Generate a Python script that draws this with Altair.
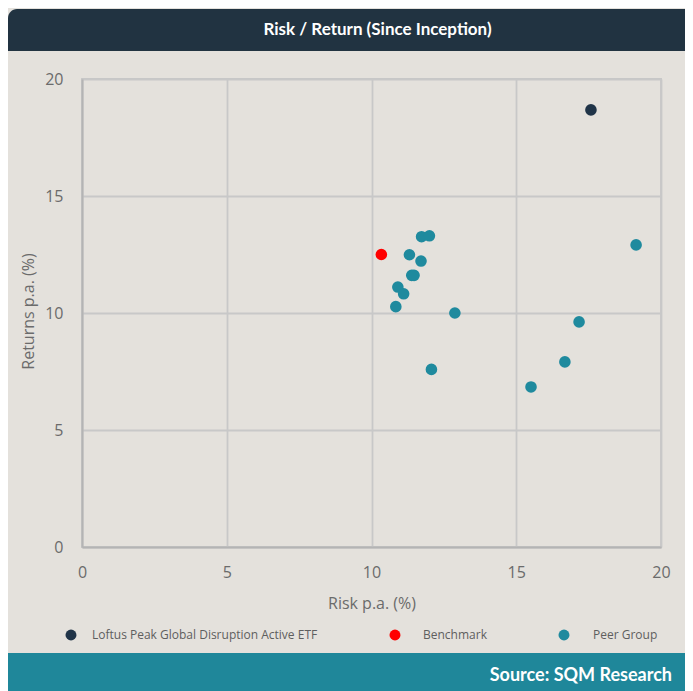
import altair as alt
import pandas as pd

# ---- data ----
series_names = ["Loftus Peak Global Disruption Active ETF", "Benchmark", "Peer Group"]
series_colors = ["#203448", "#FF0000", "#1F8A9E"]

loftus_risk = [17.58]
loftus_return = [18.68]
bench_risk = [10.34]
bench_return = [12.50]
peer_risk = [10.84, 10.91, 11.11, 11.31, 11.39, 11.47, 11.71, 11.73, 12.00, 12.07, 12.88, 15.51, 16.68, 17.17, 19.14]
peer_return = [10.27, 11.11, 10.82, 12.49, 11.61, 11.61, 12.22, 13.26, 13.30, 7.59, 10.00, 6.84, 7.91, 9.62, 12.91]

axis_ticks = [0, 5, 10, 15, 20]
title_text = "Risk / Return (Since Inception)"
source_text = "Source: SQM Research"
x_title = "Risk p.a. (%)"
y_title = "Returns p.a. (%)"

rows = []
for r, v in zip(peer_risk, peer_return):
    rows.append({"series": series_names[2], "risk": r, "ret": v})
for r, v in zip(bench_risk, bench_return):
    rows.append({"series": series_names[1], "risk": r, "ret": v})
for r, v in zip(loftus_risk, loftus_return):
    rows.append({"series": series_names[0], "risk": r, "ret": v})
df = pd.DataFrame(rows)

# ---- layout / style ----
BG = "#E4E1DC"
FONT = "Open Sans"
HFONT = "Lato"
W, H = 579, 468
PAD_L, PAD_T, PAD_R, PAD_B = 74, 71, 24, 144
color_scale = alt.Scale(domain=series_names, range=series_colors)

points = alt.Chart(df).mark_circle(size=135, opacity=1).encode(
    x=alt.X("risk:Q", title=x_title,
            scale=alt.Scale(domain=[0, 20], nice=False),
            axis=alt.Axis(values=axis_ticks, ticks=False, tickSize=0, labelPadding=17,
                          labelFlush=False, labelOverlap=False,
                          labelFontSize=16, titleFontSize=16,
                          titleX=W / 2, titleY=56, titleBaseline="middle")),
    y=alt.Y("ret:Q", title=y_title,
            scale=alt.Scale(domain=[0, 20], nice=False),
            axis=alt.Axis(values=axis_ticks, ticks=False, tickSize=0, labelPadding=19,
                          labelFlush=False, labelOverlap=False,
                          labelFontSize=16, titleFontSize=16,
                          titleX=-54, titleY=232, titleAngle=270,
                          titleBaseline="middle", titleAlign="center")),
    color=alt.Color("series:N", scale=color_scale, legend=None),
)

# manual legend (layout positions only)
legend_dot_x = [-11, 313, 482]
legend_text_x = [10, 341, 511]
legend_y = H + 88
legend_layers = []
for i, name in enumerate(series_names):
    ldf = pd.DataFrame({"series": [name]})
    legend_layers.append(
        alt.Chart(ldf).mark_circle(size=120, opacity=1).encode(
            x=alt.value(legend_dot_x[i]), y=alt.value(legend_y),
            color=alt.Color("series:N", scale=color_scale, legend=None))
    )
    legend_layers.append(
        alt.Chart(ldf).mark_text(font=FONT, fontSize=12, color="#5E5E5E",
                                 align="left", baseline="middle").encode(
            x=alt.value(legend_text_x[i]), y=alt.value(legend_y), text="series:N")
    )

one = pd.DataFrame({"t": [title_text]})
src = pd.DataFrame({"t": [source_text]})

header = alt.Chart(one).mark_rect(color="#213341", cornerRadiusTopLeft=9).encode(
    x=alt.value(-PAD_L), x2=alt.value(W + PAD_R), y=alt.value(-70), y2=alt.value(-28)
)
header_text = alt.Chart(one).mark_text(
    color="white", font=HFONT, fontSize=17, fontWeight="bold", align="center", baseline="middle"
).encode(text="t:N", x=alt.value(295.5), y=alt.value(-49))

footer = alt.Chart(src).mark_rect(color="#1F879A").encode(
    x=alt.value(-PAD_L), x2=alt.value(W + PAD_R), y=alt.value(H + 106), y2=alt.value(H + PAD_B)
)
footer_text = alt.Chart(src).mark_text(
    color="white", font=HFONT, fontSize=18, fontWeight="bold", align="right", baseline="middle"
).encode(text="t:N", x=alt.value(590), y=alt.value(H + 129))

chart = alt.layer(header, header_text, footer, footer_text, points, *legend_layers).properties(
    width=W, height=H,
    autosize=alt.AutoSizeParams(type="none"),
    padding={"left": PAD_L, "top": PAD_T, "right": PAD_R, "bottom": PAD_B},
    background=BG,
).configure_view(
    stroke="#C6C6C6", strokeWidth=1.8
).configure_axis(
    domainColor="#B4B4B4", domainWidth=2,
    gridColor="#C8C8C8", gridWidth=1.8,
    labelColor="#6B6B6B", titleColor="#6B6B6B",
    labelFont=FONT, titleFont=FONT, titleFontWeight="normal",
)

chart.save("out.html", embed_options={"renderer": "svg", "actions": False})
